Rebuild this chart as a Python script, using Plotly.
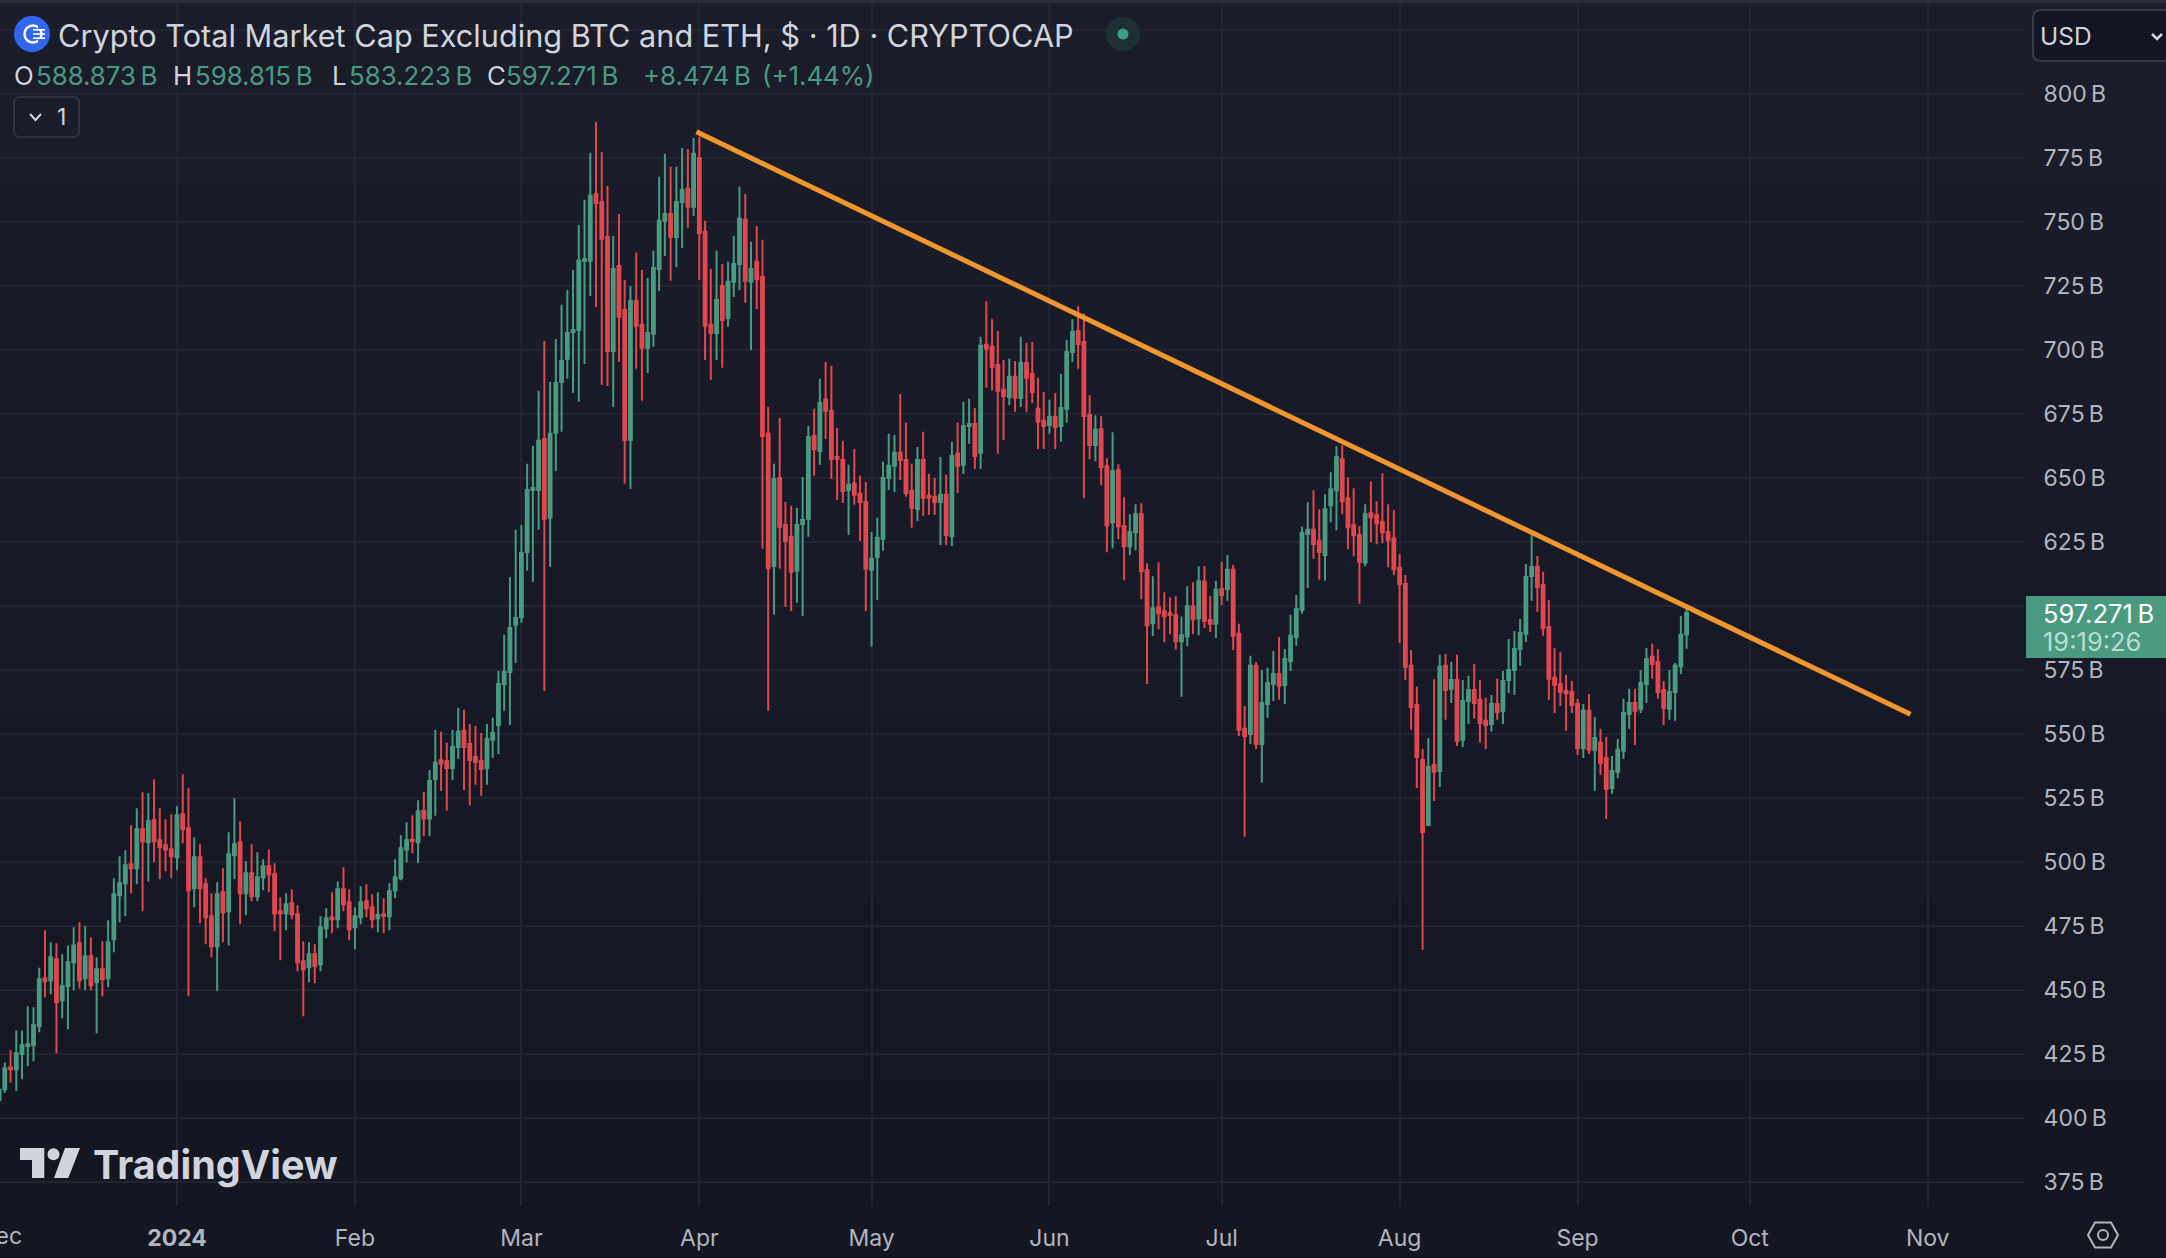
import pandas as pd
import plotly.graph_objects as go

W, H = 2166, 1258
PLOT_R, PLOT_T, PLOT_B = 2024, 3, 1206

first_day = "2023-12-01"
opens = [
407,411.2,419.7,419,425,428.1,428.4,435.8,454.6,453.8,
462,446,451.4,460.8,468.2,454.6,463.2,453,458.1,454.6,
469.8,487,491.7,499.1,497.5,512.8,507.7,516.3,508.5,506.5,
504.9,501.8,518.6,513.2,489.7,501.8,491.3,478.8,467.1,488.2,
480.7,502.6,507.7,487.8,495.6,486.6,494,498.3,495.2,480.6,
479.9,483.9,479.6,461.2,458.9,463.9,460,474.1,478.3,477.6,
489.3,484.2,474.5,478.4,484.6,482.3,478,479.6,478.8,488.9,
493.6,504.9,508.7,507.7,520,517,532.4,539.7,539.3,536.7,
544.9,551.2,546.1,541,539.5,536.7,547.7,553.5,569.5,574.2,
592.6,595.7,621.1,645.3,645.3,665.2,634.4,667.6,687.5,696.5,
707,707.8,734.8,734.8,760.9,757.8,744.1,699.6,732.8,715.6,
664.8,719.1,709.8,700.8,706.3,731.6,750.4,753.1,744.1,757.8,
762.9,755.9,775,746.1,709.8,706.6,725,712.5,726.6,733.6,
750.8,726.6,734.4,728.5,667.2,615.6,650,631.6,627,613.7,
632,634,666.4,660.5,680.5,676.2,658.2,657,645.3,647.7,
643.8,640.6,614.1,619.1,626.2,650,654.7,659.8,657,644.9,
637.9,657,643,642.6,640.6,643.4,627.3,659.4,655.1,670.3,
671.1,659.8,702,701.2,694.1,684.4,681.6,689.5,681.3,694.9,
690.6,677,672.3,670.7,673.8,670.3,677,699.2,707.4,703.1,
674.6,662.9,669,654.6,632.7,653,631.1,623.3,628.8,635.8,
613.9,593.2,599.5,597.9,597.1,596.4,586.2,588.1,599.9,595.2,
609.4,594.5,593,606.6,606.6,614.1,589.1,552,550,576.6,
546.1,561.7,569.5,573.4,569.1,578.5,587.9,598.4,628.1,629.7,
625.4,619.9,639.3,645.2,657.3,642,631.5,627.6,617,636.2,
635.4,632.7,628.8,626.4,614.8,608.6,576.6,561.3,539.8,514.4,
537.9,535.5,576.6,567.6,571.1,547.7,562.9,567.2,563.3,555.1,
553.9,561.7,559,571.1,575,583.2,589.1,611.7,615.2,608.2,
591.8,571.9,569.5,566.8,566.4,561.7,544.5,559,543.8,546.5,
540.6,528.9,535.2,543.4,557.8,562.1,559.8,569.5,580.1,578.1,
567.2,559.8,566.4,576.3,588.873]
highs = [
412,421.7,426.4,434.2,434.2,443.6,443.2,458.7,473.3,468.6,
468.2,463.9,467.4,474.5,476.4,474.9,470.6,462.8,469,477.2,
493.6,502.2,504.6,514.3,521,527.2,526.8,532.3,521,516.7,
518.6,521.7,534.2,528.8,509.6,506.9,493.6,487.8,492.1,497.5,
511.6,524.9,515.9,500.3,506.9,503.8,501,504.9,499.5,486.2,
487.8,489.3,483.1,469,468.6,467.8,478.8,481.9,488.2,492.4,
497.9,489.3,482.3,490.5,491.3,487.4,488.2,485.8,491.7,501,
510.4,515.5,518.2,524.1,527.3,535.9,551.6,550.8,546.5,551.6,
560.2,559.4,553.9,553.1,550.4,553.9,556.3,574.6,588.7,611.3,
629.7,631.6,655.5,662.5,684,703.5,687.5,704.3,717.6,723.4,
731.2,748.8,758.6,777,789.1,777.3,764.1,744.5,753.1,727.3,
725,737.9,731.2,728.1,738.7,767.6,776.6,771.5,771.5,778.9,
778.5,782.8,783.3,750.4,731.6,738.7,733.6,734.4,744.5,763.7,
760.9,742.2,748.4,743,677.7,655.5,673.4,640.6,639.1,638.3,
650.4,670.3,677,688.7,695.3,693.8,669.5,664.5,655.1,661.3,
650.8,648.4,628.9,634.4,656.3,667.2,666.8,682.8,671.5,655.5,
662.1,668,651.6,650,658.2,651.2,664.1,671.5,679.7,680.9,
677.3,705.1,719,712,707.4,696.1,696.5,695.7,705.1,702.7,
703.1,689.1,683.6,680.5,683.2,690.6,703.9,712,717,714.2,
682.3,674.5,674.1,657.7,667.8,655.3,642.4,635.8,639.7,640.1,
616.7,611.6,617.1,605.3,603.4,603.8,595.9,607.7,609.2,615.5,
615.6,603.9,609.8,617.2,619.9,616,593,560.9,580.5,578.1,
575,575.8,582.4,587.9,583.2,596.5,604.3,630.9,640.5,645.2,
637.8,643.6,652.2,662.4,662.8,650.3,646,631.1,639.7,648.7,
640.9,651.8,639.7,637.4,620.2,612.1,582.8,568.4,544.1,548.4,
571.4,580.9,581.2,578.1,580.9,571.1,572.7,577.3,571.1,564.1,
565.2,571.5,574.6,587.1,590.2,594.9,616.4,627.7,619.5,613.3,
602.3,583.6,582,573,570.7,563.7,561.7,565.6,556.6,552,
548.8,541.4,548,563.7,567.6,567.6,575,583.6,585.2,583.2,
570.7,575,577.7,596.1,598.815]
lows = [
404,409.8,413.7,410.5,415.1,420.2,422.1,433.5,447.1,448.3,
425.3,438.9,434.6,449.9,450.6,449.9,449.9,433.1,447.5,451,
464.7,476.4,478.8,487.8,491.3,480.7,492.4,499.9,493.2,496.4,
493.6,496.7,507.3,447.5,482.3,476,467.8,462.8,449.5,468.6,
467.4,493.2,475.7,479.2,484.6,484.6,488.9,488.2,472.9,461.6,
473.3,477.6,457.3,439.7,453,452.6,457.3,470.2,472.1,474.1,
480.7,469.4,465.9,475.7,478.4,474.1,472.5,472.1,473.3,485.8,
492.8,499.9,503.4,499.5,510,510,518,527.7,520,532,
540.2,528.1,522,530.1,525.8,530.1,540.6,542.2,559,553.5,
577.7,593.4,613.7,609.4,629.7,566.8,615.2,652.7,668,688.7,
683.2,679.7,694.5,721.1,716.8,686.3,685.9,677.7,695.3,647.7,
645.7,692.6,680.1,691,701.2,723,736.7,727,732.4,739.8,
747.7,752.3,727.3,696.1,688.3,696.1,693,709,720.7,723.4,
718.4,700,716,622.3,559,596.5,614.5,599.6,598,601.2,
596.1,627,650.8,655.1,665.2,649.6,641.4,640.2,627.7,639.5,
625.4,598,584,602.3,621.5,645.3,644.5,649.2,642.6,630.5,
633.2,635.2,635.5,635.5,623.8,623.8,623.4,644.1,651.6,663.3,
653.5,653.5,685.2,684,659.4,664.8,678.5,675.8,677.7,675.8,
679.3,661.3,661.3,667.2,661.3,664.1,671.5,695.3,692.6,642.1,
657.3,656.5,647.1,621,622.5,626,610,619.8,621.7,602.6,
569.5,588.2,590.9,585.8,588.9,583,564.5,584.2,588.9,588.5,
591.4,589.8,587.5,600.4,602,582.8,549.2,509.8,546.1,544.1,
530.9,556.2,562.9,563.3,561.7,574.6,584.4,596.9,607,618.4,
610.2,609.8,632.7,629.6,635.8,622.1,619.4,600.8,615.5,624.9,
624.1,624.5,615.1,612,585.5,571.1,551.6,528.9,465.6,514,
523.8,529.3,555.5,562.1,545.3,544.9,553.9,555.9,546.5,544.1,
550.8,555.5,553.9,566,565.2,576.6,585.9,602,597.7,588.3,
563.3,558.2,560.9,551.2,558.2,541.8,540.6,542.2,527.7,534,
516.8,526.6,532.8,540.2,552,545.7,558.2,562.1,571.5,563.7,
553.5,555.5,555.1,573.4,583.223]
closes = [
411,419.4,419,425.3,428.4,428.8,436.2,454.2,453.4,462.8,
445.2,451.4,460.8,467.4,453.8,463.2,451.8,458.1,454.2,468.6,
487.4,491.7,498.7,497.5,512.8,508.1,515.9,508.1,505.7,504.9,
502.2,518.2,512.8,488.9,501.8,489.7,478.4,467.1,487.4,480.3,
503,506.9,487.8,495.6,486.6,494,498.3,495.2,479.9,479.9,
483.5,479.6,460.8,458.1,463.9,459.2,474.5,478,477.6,489.3,
483.5,473.7,478.8,484.2,481.9,477.6,479.3,478.9,488.5,494,
505.3,508.5,508.2,519.8,517,531.6,538.7,538.4,536.7,544.9,
550.8,544.9,539.8,539,536.3,548,550.4,569.5,574.2,591.4,
595.3,620.7,645.3,646.1,664.5,634,667.2,687.1,695.7,706.6,
707.8,734.8,735.5,760.2,757.4,743.4,699.6,731.6,712.9,664.8,
719.1,709.4,700.8,706.6,732,750.4,753.1,744.1,757.8,762.5,
755.9,776.6,745.7,709.4,706.6,719.5,711.7,726.6,733.6,751.2,
727,731.6,727.7,666.4,614.8,649.6,630.9,625.4,613.3,631.6,
633.6,666,661.3,679.3,676.2,657.4,657.5,644.9,647.3,643.4,
640.6,614.5,618.4,626.6,650,654.7,659.8,657,644.1,638.3,
657,642.2,642.3,640.6,643.4,627.7,658.6,654.7,670.3,671.1,
658.6,701.6,700.4,693.4,684,682,689.5,681.3,694.9,689.1,
683.6,671.9,670.3,673.8,669.9,677.3,699.2,707,702.3,674.2,
662.9,668.8,654.2,631.5,652.6,631.1,623.3,628.8,635.8,613.5,
592.4,599.1,597.1,596,596.4,586.2,588.5,599.9,594.8,609.6,
594.1,593,606.3,604.3,614.1,588.3,551.6,549.2,576.6,546.1,
562.1,569.9,573.4,568.8,579.3,588.3,598.8,628.5,629.7,624.2,
621.1,637.8,645.6,658.1,640.9,630.7,627.6,617.2,635.8,634.6,
632.3,628.8,625.6,614.3,608.6,576.2,560.5,541,511.7,537.1,
535.2,576.2,567.2,571.1,547.3,562.9,567.2,562.1,554.3,553.5,
561.7,558.6,570.7,575,583.2,589.5,611.3,615.2,607.4,591.4,
571.5,569.1,566.4,565.8,561.3,544.5,559,543.8,548.4,538.7,
528.5,535.5,543.8,558.2,562.1,559,569.9,579.3,577.3,566.4,
560.2,566.4,576.6,588.7,597.271]
dates = pd.date_range(first_day, periods=len(opens), freq="D")

trend_dates = ["2024-03-31 12:00", "2024-10-29"]
trend_values = [785.2, 557.7]

y_ticks = [375, 400, 425, 450, 475, 500, 525, 550, 575, 600, 625, 650, 675, 700, 725, 750, 775, 800, 825]
y_hidden = [600, 825]
month_ticks = ["2024-01-01", "2024-02-01", "2024-03-01", "2024-04-01", "2024-05-01", "2024-06-01",
               "2024-07-01", "2024-08-01", "2024-09-01", "2024-10-01", "2024-11-01"]
month_labels = ["<b>2024</b>", "Feb", "Mar", "Apr", "May", "Jun", "Jul", "Aug", "Sep", "Oct", "Nov"]
title_text = "Crypto Total Market Cap Excluding BTC and ETH, $ · 1D · CRYPTOCAP"
ohlc_row = [(13, "O", "#d1d4dc"), (35, "588.873\u2009B", "#4a9a82"), (172, "H", "#d1d4dc"),
            (194, "598.815\u2009B", "#4a9a82"), (331, "L", "#d1d4dc"), (348, "583.223\u2009B", "#4a9a82"),
            (486, "C", "#d1d4dc"), (505, "597.271\u2009B", "#4a9a82"), (642, "+8.474\u2009B", "#4a9a82"),
            (761, "(+1.44%)", "#4a9a82")]

GREEN, RED, FONT = "#4A9A82", "#E0474F", "Inter"
GRID, TEXT, AXIS_TEXT = "#22252F", "#D1D4DC", "#B2B5BE"


def px(x):
    return x / PLOT_R


def py(y):
    return (PLOT_B - y) / (PLOT_B - PLOT_T)


fig = go.Figure()
fig.add_trace(go.Candlestick(
    x=dates, open=opens, high=highs, low=lows, close=closes, whiskerwidth=0,
    increasing=dict(line=dict(color=GREEN, width=2), fillcolor=GREEN),
    decreasing=dict(line=dict(color=RED, width=2), fillcolor=RED),
    hoverinfo="skip", showlegend=False))
fig.add_trace(go.Scatter(x=trend_dates, y=trend_values, mode="lines",
                         line=dict(color="#F0962E", width=5), hoverinfo="skip", showlegend=False))

shapes = []


def rect(x0, y0, x1, y1, fill, line=None, layer="above"):
    shapes.append(dict(type="rect", xref="paper", yref="paper", x0=px(x0), x1=px(x1), y0=py(y1), y1=py(y0),
                       fillcolor=fill, line=dict(color=line or fill, width=1 if line else 0), layer=layer))


def path(points, fill=None, line=None, width=0, closed=True):
    d = "M " + " L ".join(f"{px(x):.6f} {py(y):.6f}" for x, y in points) + (" Z" if closed else "")
    shapes.append(dict(type="path", xref="paper", yref="paper", path=d, fillcolor=fill or "rgba(0,0,0,0)",
                       line=dict(color=line or "rgba(0,0,0,0)", width=width), layer="above"))


def circle(cx, cy, r, fill=None, line=None, width=0):
    shapes.append(dict(type="circle", xref="paper", yref="paper", x0=px(cx - r), x1=px(cx + r),
                       y0=py(cy + r), y1=py(cy - r), fillcolor=fill or "rgba(0,0,0,0)",
                       line=dict(color=line or "rgba(0,0,0,0)", width=width), layer="above"))


def round_rect(x0, y0, x1, y1, r, fill, line):
    d = (f"M {px(x0+r):.6f} {py(y0):.6f} L {px(x1-r):.6f} {py(y0):.6f} "
         f"Q {px(x1):.6f} {py(y0):.6f} {px(x1):.6f} {py(y0+r):.6f} L {px(x1):.6f} {py(y1-r):.6f} "
         f"Q {px(x1):.6f} {py(y1):.6f} {px(x1-r):.6f} {py(y1):.6f} L {px(x0+r):.6f} {py(y1):.6f} "
         f"Q {px(x0):.6f} {py(y1):.6f} {px(x0):.6f} {py(y1-r):.6f} L {px(x0):.6f} {py(y0+r):.6f} "
         f"Q {px(x0):.6f} {py(y0):.6f} {px(x0+r):.6f} {py(y0):.6f} Z")
    shapes.append(dict(type="path", xref="paper", yref="paper", path=d, fillcolor=fill,
                       line=dict(color=line, width=2), layer="above"))


# background bands, top lighter than bottom
bands = ["#1A1D29", "#191C28", "#181B27", "#171A26", "#161925", "#151823", "#141722"]
for k, c in enumerate(bands):
    rect(0, H * k / len(bands), W, H * (k + 1) / len(bands), c, layer="below")
rect(0, 0, W, 3, "#2A2D39", layer="below")

# symbol icon
circle(32, 34, 18, fill="#3366F0")
circle(33, 34, 8.5, line="#FFFFFF", width=2.5)
rect(33, 29, 45, 30.6, "#FFFFFF")
rect(33, 33.2, 45, 34.8, "#FFFFFF")
rect(33, 37.4, 45, 39, "#FFFFFF")
rect(38, 25, 45, 29, "#3366F0")
rect(38, 39, 45, 43, "#3366F0")
# status dot
circle(1123, 34, 17, fill="#1E2F33")
circle(1123, 34, 5.5, fill="#3B9D83")
# "1" pane button
round_rect(14, 97, 79, 137, 6, "rgba(0,0,0,0)", "#2F3240")
path([(30, 114), (35.5, 120), (41, 114)], line=TEXT, width=2, closed=False)
# USD button
round_rect(2033, 10, 2180, 61, 8, "#131622", "#363A45")
path([(2152, 34), (2157, 39), (2162, 34)], line=TEXT, width=2.5, closed=False)
# current price tag
rect(2026, 596, W, 658, GREEN)
# settings hexagon
path([(2088, 1235), (2095, 1222.5), (2111, 1222.5), (2118, 1235), (2111, 1247.5), (2095, 1247.5)],
     line="#B2B5BE", width=2)
circle(2103, 1235, 5, line="#B2B5BE", width=2)
# TradingView mark
path([(20, 1148), (44.3, 1148), (44.3, 1178), (32, 1178), (32, 1160), (20, 1160)], fill=TEXT)
circle(53.5, 1154.3, 6, fill=TEXT)
path([(65, 1148), (80, 1148), (68.3, 1178), (54, 1178)], fill=TEXT)

ann = []


def label(x, y, text, size, color, anchor="left", yanchor="middle"):
    ann.append(dict(xref="paper", yref="paper", x=px(x), y=py(y), text=text, showarrow=False, xanchor=anchor,
                    yanchor=yanchor, align="left", borderpad=0, font=dict(family=FONT, size=size, color=color)))


label(57, 35, title_text, 30.7, TEXT)
for x, text, color in ohlc_row:
    label(x, 76, text, 25.8, color)
label(56, 117, "1", 23, TEXT)
label(2039, 36, "USD", 24.5, TEXT)
label(2042, 613, "597.271\u2009B", 25.5, "#FFFFFF")
label(2042, 641, "19:19:26", 25.5, "#BADDD1")
label(0, 1236, "Dec", 23, AXIS_TEXT, anchor="center")
label(92, 1190, "<b>TradingView</b>", 39.5, TEXT, yanchor="bottom")

fig.update_layout(
    width=W, height=H, autosize=False, margin=dict(l=0, r=W - PLOT_R, t=PLOT_T, b=H - PLOT_B, pad=0),
    paper_bgcolor="#171A26", plot_bgcolor="rgba(0,0,0,0)", showlegend=False, hovermode=False,
    font=dict(family=FONT), shapes=shapes, annotations=ann,
    xaxis=dict(type="date", range=["2023-12-01 03:56", "2024-11-17 18:43"], rangeslider=dict(visible=False),
               tickmode="array", tickvals=month_ticks, ticktext=month_labels, showgrid=True, gridcolor=GRID,
               gridwidth=2, zeroline=False, showline=False, ticks="outside", ticklen=11,
               tickcolor="rgba(0,0,0,0)", tickfont=dict(family=FONT, size=23, color=AXIS_TEXT)),
    yaxis=dict(side="right", range=[365.6, 835.5], tickmode="array", tickvals=y_ticks,
               ticktext=["" if v in y_hidden else f"{v}\u2009B" for v in y_ticks], showgrid=True, gridcolor=GRID,
               gridwidth=2, zeroline=False, showline=False, ticks="outside", ticklen=14,
               tickcolor="rgba(0,0,0,0)", tickfont=dict(family=FONT, size=23, color=AXIS_TEXT)),
)

fig.write_html("out.html", config={"displayModeBar": False},
               post_script="document.body.style.margin='0';document.body.style.background='#171A26';"
                           "document.documentElement.style.overflow='hidden';")
